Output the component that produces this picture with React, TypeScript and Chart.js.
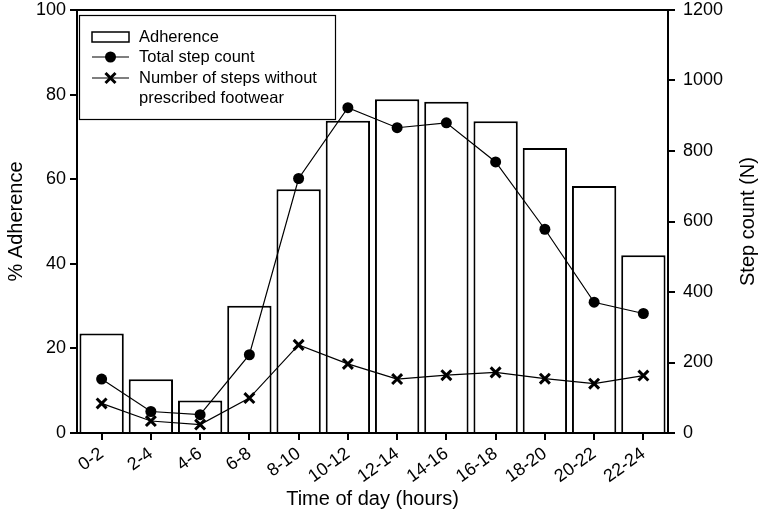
import React, { useEffect, useRef } from "react";
import { Chart, registerables } from "chart.js";

Chart.register(...registerables);

const categories = ["0-2", "2-4", "4-6", "6-8", "8-10", "10-12", "12-14", "14-16", "16-18", "18-20", "20-22", "22-24"];
const adherence = [23.5, 12.7, 7.7, 30.1, 57.6, 73.8, 78.9, 78.3, 73.7, 67.4, 58.4, 42.0];
const totalSteps = [153, 61, 52, 222, 722, 923, 866, 880, 769, 578, 371, 339];
const stepsWithout = [84, 34, 24, 99, 250, 196, 153, 164, 172, 154, 140, 163];
const leftTicks = [0, 20, 40, 60, 80, 100];
const rightTicks = [0, 200, 400, 600, 800, 1000, 1200];
const legendLabels = ["Adherence", "Total step count", "Number of steps without", "prescribed footwear"];
const rightTitle = "Step count (N)";

const FONT = "'Liberation Sans', Arial, sans-serif";

const framePlugin = {
  id: "frameAndLegend",
  afterDatasetsDraw(chart: any) {
    const { ctx, chartArea } = chart;
    const { left, right, top, bottom } = chartArea;
    ctx.save();
    // top frame line
    ctx.strokeStyle = "#000";
    ctx.lineWidth = 2;
    ctx.beginPath();
    ctx.moveTo(left - 1, top);
    ctx.lineTo(right + 1, top);
    ctx.stroke();

    // legend box
    const bx = left + 2;
    const by = top + 5;
    const bw = 256;
    const bh = 104;
    ctx.fillStyle = "#fff";
    ctx.fillRect(bx, by, bw, bh);
    ctx.lineWidth = 1.2;
    ctx.strokeRect(bx + 0.5, by + 0.5, bw, bh);

    const sx0 = bx + 13;
    const sx1 = bx + 50;
    const sxm = (sx0 + sx1) / 2;
    const tx = bx + 60;
    ctx.font = `16.5px ${FONT}`;
    ctx.textBaseline = "middle";
    ctx.fillStyle = "#000";

    // Adherence
    const r1 = by + 22;
    ctx.lineWidth = 1.5;
    ctx.strokeRect(sx0, r1 - 5, sx1 - sx0, 10);
    ctx.fillText(legendLabels[0], tx, r1);

    // Total step count
    const r2 = by + 42;
    ctx.lineWidth = 1.2;
    ctx.beginPath();
    ctx.moveTo(sx0, r2);
    ctx.lineTo(sx1, r2);
    ctx.stroke();
    ctx.beginPath();
    ctx.arc(sxm, r2, 5.5, 0, Math.PI * 2);
    ctx.fill();
    ctx.fillText(legendLabels[1], tx, r2);

    // Steps without
    const r3 = by + 63;
    ctx.beginPath();
    ctx.moveTo(sx0, r3);
    ctx.lineTo(sx1, r3);
    ctx.stroke();
    ctx.lineWidth = 3;
    const d = 5;
    ctx.beginPath();
    ctx.moveTo(sxm - d, r3 - d);
    ctx.lineTo(sxm + d, r3 + d);
    ctx.moveTo(sxm + d, r3 - d);
    ctx.lineTo(sxm - d, r3 + d);
    ctx.stroke();
    ctx.fillText(legendLabels[2], tx, r3);
    ctx.fillText(legendLabels[3], tx, r3 + 20);

    // right axis title, reading bottom-to-top
    ctx.translate(748, (top + bottom) / 2);
    ctx.rotate(-Math.PI / 2);
    ctx.font = `20px ${FONT}`;
    ctx.textAlign = "center";
    ctx.textBaseline = "middle";
    ctx.fillText(rightTitle, 0, 0);
    ctx.restore();
  },
};

export default function App() {
  const ref = useRef<HTMLCanvasElement>(null);
  useEffect(() => {
    document.body.style.margin = "0";
    const canvas = ref.current!;
    const chart = new Chart(canvas, {
      type: "bar",
      data: {
        labels: categories,
        datasets: [
          {
            type: "line",
            label: "Total step count",
            data: totalSteps,
            yAxisID: "y1",
            borderColor: "#000",
            backgroundColor: "#000",
            borderWidth: 1.2,
            pointStyle: "circle",
            pointRadius: 5.5,
            pointBackgroundColor: "#000",
            pointBorderWidth: 0,
            tension: 0,
            order: 1,
          } as any,
          {
            type: "line",
            label: "Number of steps without prescribed footwear",
            data: stepsWithout,
            yAxisID: "y1",
            borderColor: "#000",
            backgroundColor: "#000",
            borderWidth: 1.2,
            pointStyle: "crossRot",
            pointRadius: 7,
            pointBorderWidth: 3,
            tension: 0,
            order: 1,
          } as any,
          {
            type: "bar",
            label: "Adherence",
            data: adherence,
            yAxisID: "y",
            backgroundColor: "#fff",
            borderColor: "#000",
            borderWidth: 2,
            barPercentage: 0.9,
            categoryPercentage: 1,
            order: 2,
          } as any,
        ],
      },
      options: {
        responsive: false,
        animation: false,
        layout: { padding: { top: 6, right: 0, left: 0, bottom: 0 } },
        plugins: { legend: { display: false }, tooltip: { enabled: false } },
        scales: {
          x: {
            offset: true,
            grid: { display: true, offset: false, drawOnChartArea: false, drawTicks: true, tickLength: 7, color: "#000", lineWidth: 2 },
            border: { display: true, color: "#000", width: 2 },
            ticks: { color: "#000", font: { family: FONT, size: 18 }, minRotation: 36, maxRotation: 36, padding: 3 },
            title: { display: true, text: "Time of day (hours)", color: "#000", font: { family: FONT, size: 20 }, padding: { top: 0, bottom: 1 } },
            afterFit(scale: any) { scale.height = 79; scale.paddingLeft = 0; scale.paddingRight = 0; },
          },
          y: {
            position: "left",
            min: 0,
            max: 100,
            afterBuildTicks(scale: any) { scale.ticks = leftTicks.map((v) => ({ value: v })); },
            grid: { display: true, drawOnChartArea: false, drawTicks: true, tickLength: 7, color: "#000", lineWidth: 2 },
            border: { display: true, color: "#000", width: 2 },
            ticks: { color: "#000", font: { family: FONT, size: 18 }, padding: 4 },
            title: { display: true, text: "% Adherence", color: "#000", font: { family: FONT, size: 20 }, padding: { top: 4, bottom: 0 } },
            afterFit(scale: any) { scale.width = 77; scale.paddingTop = 0; scale.paddingBottom = 0; },
          },
          y1: {
            position: "right",
            min: 0,
            max: 1200,
            afterBuildTicks(scale: any) { scale.ticks = rightTicks.map((v) => ({ value: v })); },
            grid: { display: true, drawOnChartArea: false, drawTicks: true, tickLength: 7, color: "#000", lineWidth: 2 },
            border: { display: true, color: "#000", width: 2 },
            ticks: { color: "#000", font: { family: FONT, size: 18 }, padding: 8, callback: (v: any) => String(v) },
            title: { display: false },
            afterFit(scale: any) { scale.width = 92; scale.paddingTop = 0; scale.paddingBottom = 0; },
          },
        },
      },
      plugins: [framePlugin],
    });
    return () => chart.destroy();
  }, []);
  return <canvas ref={ref} width={760} height={512} style={{ display: "block" }} />;
}
